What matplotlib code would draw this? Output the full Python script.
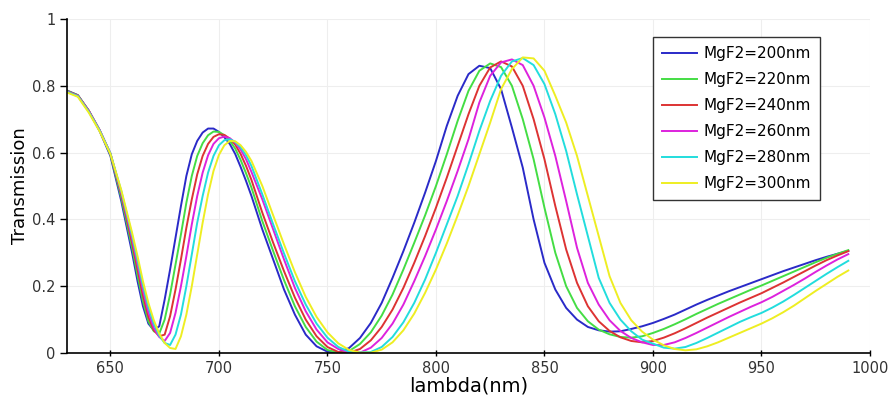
import numpy as np
import matplotlib
matplotlib.use("Agg")
import matplotlib.pyplot as plt
from matplotlib.ticker import FuncFormatter

# wavelength grid (nm): 5 nm steps, 2.5 nm around the first dip/peak
wl = ([630, 635, 640, 645, 650, 655]
      + [660 + 2.5 * i for i in range(23)]
      + [720 + 5 * i for i in range(55)])

t200 = [0.786, 0.772, 0.725, 0.665, 0.590, 0.455,
        0.300, 0.215, 0.140, 0.088, 0.068, 0.080, 0.160, 0.250, 0.345, 0.440, 0.530, 0.595,
        0.635, 0.660, 0.672, 0.672, 0.662, 0.646, 0.626, 0.596, 0.557, 0.515, 0.470,
        0.370, 0.280, 0.190, 0.115, 0.055, 0.020, 0.004, 0.002, 0.015, 0.045, 0.090, 0.150,
        0.225, 0.305, 0.390, 0.480, 0.575, 0.680, 0.770, 0.835, 0.860, 0.853, 0.790, 0.675,
        0.555, 0.400, 0.270, 0.190, 0.135, 0.100, 0.078, 0.068, 0.064, 0.065, 0.072, 0.080,
        0.090, 0.102, 0.115, 0.130, 0.145, 0.159, 0.172, 0.185, 0.197, 0.209, 0.221, 0.233,
        0.245, 0.256, 0.267, 0.278, 0.288, 0.297, 0.306]

t220 = [0.785, 0.772, 0.726, 0.667, 0.594, 0.465,
        0.315, 0.232, 0.155, 0.095, 0.065, 0.058, 0.100, 0.175, 0.265, 0.355, 0.450, 0.530,
        0.590, 0.628, 0.652, 0.663, 0.662, 0.652, 0.636, 0.612, 0.578, 0.538, 0.495,
        0.395, 0.305, 0.218, 0.140, 0.078, 0.034, 0.009, 0.001, 0.006, 0.027, 0.062, 0.112,
        0.175, 0.250, 0.330, 0.412, 0.500, 0.595, 0.695, 0.785, 0.845, 0.867, 0.856, 0.800,
        0.700, 0.580, 0.435, 0.300, 0.200, 0.135, 0.095, 0.070, 0.056, 0.048, 0.046, 0.050,
        0.060, 0.072, 0.086, 0.101, 0.117, 0.132, 0.147, 0.161, 0.175, 0.189, 0.202, 0.216,
        0.230, 0.244, 0.258, 0.272, 0.285, 0.297, 0.308]

t240 = [0.784, 0.771, 0.726, 0.668, 0.597, 0.474,
        0.330, 0.250, 0.172, 0.108, 0.068, 0.050, 0.055, 0.110, 0.190, 0.280, 0.375, 0.460,
        0.535, 0.590, 0.626, 0.647, 0.655, 0.653, 0.642, 0.624, 0.596, 0.560, 0.518,
        0.420, 0.330, 0.245, 0.166, 0.100, 0.050, 0.018, 0.003, 0.001, 0.012, 0.038, 0.078,
        0.130, 0.195, 0.270, 0.350, 0.435, 0.525, 0.620, 0.715, 0.800, 0.855, 0.873, 0.858,
        0.800, 0.700, 0.580, 0.440, 0.310, 0.210, 0.140, 0.095, 0.066, 0.047, 0.036, 0.032,
        0.036, 0.046, 0.059, 0.074, 0.090, 0.106, 0.121, 0.136, 0.151, 0.165, 0.179, 0.195,
        0.211, 0.228, 0.245, 0.262, 0.278, 0.292, 0.305]

t260 = [0.783, 0.770, 0.725, 0.668, 0.598, 0.480,
        0.342, 0.265, 0.188, 0.122, 0.075, 0.048, 0.036, 0.060, 0.120, 0.200, 0.290, 0.385,
        0.470, 0.540, 0.592, 0.626, 0.643, 0.648, 0.643, 0.630, 0.609, 0.580, 0.542,
        0.460, 0.370, 0.280, 0.195, 0.125, 0.070, 0.032, 0.012, 0.002, 0.001, 0.016, 0.045,
        0.088, 0.145, 0.215, 0.290, 0.370, 0.455, 0.545, 0.640, 0.750, 0.830, 0.870, 0.879,
        0.862, 0.800, 0.705, 0.590, 0.455, 0.315, 0.210, 0.145, 0.098, 0.066, 0.045, 0.032,
        0.024, 0.024, 0.032, 0.045, 0.060, 0.076, 0.092, 0.108, 0.123, 0.138, 0.152, 0.168,
        0.186, 0.204, 0.223, 0.243, 0.262, 0.280, 0.296]

t280 = [0.782, 0.769, 0.723, 0.667, 0.598, 0.485,
        0.352, 0.278, 0.202, 0.137, 0.087, 0.052, 0.030, 0.024, 0.055, 0.115, 0.200, 0.295,
        0.390, 0.470, 0.540, 0.590, 0.622, 0.637, 0.640, 0.632, 0.616, 0.592, 0.560,
        0.475, 0.385, 0.298, 0.215, 0.145, 0.088, 0.046, 0.018, 0.004, 0.002, 0.003, 0.018,
        0.048, 0.092, 0.150, 0.220, 0.300, 0.385, 0.470, 0.565, 0.665, 0.755, 0.830, 0.873,
        0.883, 0.862, 0.805, 0.715, 0.605, 0.475, 0.350, 0.225, 0.150, 0.100, 0.065, 0.040,
        0.028, 0.016, 0.013, 0.018, 0.030, 0.045, 0.061, 0.077, 0.093, 0.107, 0.120, 0.136,
        0.154, 0.174, 0.195, 0.216, 0.237, 0.257, 0.276]

t300 = [0.780, 0.767, 0.720, 0.664, 0.596, 0.488,
        0.360, 0.290, 0.215, 0.150, 0.098, 0.058, 0.030, 0.015, 0.012, 0.050, 0.115, 0.200,
        0.295, 0.390, 0.475, 0.545, 0.593, 0.622, 0.635, 0.634, 0.622, 0.602, 0.575,
        0.500, 0.412, 0.325, 0.242, 0.168, 0.108, 0.062, 0.029, 0.009, 0.001, 0.001, 0.010,
        0.032, 0.068, 0.118, 0.180, 0.250, 0.328, 0.412, 0.500, 0.595, 0.690, 0.790, 0.850,
        0.885, 0.882, 0.845, 0.770, 0.690, 0.590, 0.470, 0.350, 0.230, 0.150, 0.098, 0.064,
        0.040, 0.023, 0.012, 0.008, 0.011, 0.020, 0.032, 0.046, 0.060, 0.074, 0.088, 0.104,
        0.122, 0.142, 0.164, 0.186, 0.207, 0.228, 0.247]

labels = ['MgF2=200nm', 'MgF2=220nm', 'MgF2=240nm',
          'MgF2=260nm', 'MgF2=280nm', 'MgF2=300nm']
colors = ['#2a2ac8', '#44dd44', '#dd3333', '#dd22dd', '#22dddd', '#eeee22']
series = [t200, t220, t240, t260, t280, t300]

fig = plt.figure(figsize=(8.9, 4.0), dpi=100)
ax = fig.add_axes([67 / 890, 47 / 400, 803 / 890, 334 / 400])

for y, c, lab in zip(series, colors, labels):
    ax.plot(wl, y, color=c, linewidth=1.4, label=lab)

ax.set_xlim(630, 1000)
ax.set_ylim(0, 1)
ax.set_xticks([650, 700, 750, 800, 850, 900, 950, 1000])
ax.set_yticks([0, 0.2, 0.4, 0.6, 0.8, 1])
ax.yaxis.set_major_formatter(FuncFormatter(lambda v, p: '%g' % v))
ax.grid(True, color='#eeeeee', linewidth=0.8)
ax.set_axisbelow(True)

for s in ['top', 'right']:
    ax.spines[s].set_visible(False)
for s in ['left', 'bottom']:
    ax.spines[s].set_linewidth(1.2)

ax.tick_params(axis='both', labelsize=10.5, labelcolor='#333333', length=5, width=1)
ax.tick_params(axis='x', direction='inout')
ax.set_xlabel('lambda(nm)', fontsize=14, labelpad=0)
ax.set_ylabel('Transmission', fontsize=13, labelpad=2)

leg = ax.legend(loc='upper right', bbox_to_anchor=(820 / 890, 1 - 37 / 400),
                bbox_transform=fig.transFigure, borderaxespad=0, fontsize=11,
                fancybox=False, framealpha=1, edgecolor='#333333', handlelength=2.3,
                handletextpad=0.4, labelspacing=0.72, borderpad=0.6)
leg.get_frame().set_linewidth(1.0)

fig.savefig('out.png', dpi=100)
